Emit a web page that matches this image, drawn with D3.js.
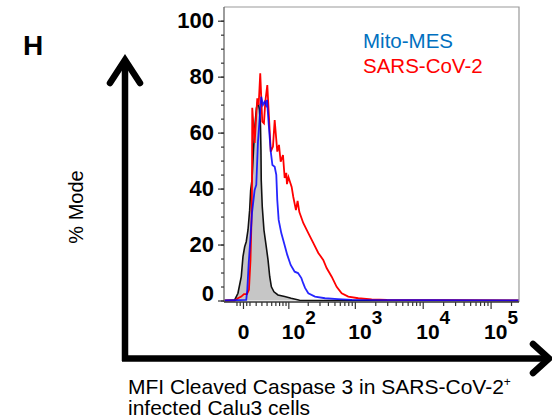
<!DOCTYPE html>
<html>
<head>
<meta charset="utf-8">
<script src="https://cdn.jsdelivr.net/npm/d3@7"></script>
<style>
  body { margin: 0; background: #fff; }
  text { font-family: "Liberation Sans", Arial, Helvetica, sans-serif; }
</style>
</head>
<body>
<div id="chart"></div>
<script>
// Histogram data: x = MFI (fluorescence), y = % of mode
const isotypeX = [-30, -12.8, -7.7, -2.6, 0, 2.6, 5.0, 7.7, 10.3, 11.9, 14.0, 16.4, 18.8, 21.3, 23.0, 24.8,
                  26.5, 28.3, 29.2, 29.7, 31.6, 34.8, 39.4, 43.0, 46.7, 50.4, 56.5, 66.9, 87.1, 111, 150, 262144];
const isotypeY = [0, 0.2, 2.6, 8.5, 15.7, 19.2, 21.0, 25.2, 32.3, 39.5, 43.1, 53.8, 62.7, 68.8, 70.6, 70.2,
                  68.1, 62.7, 53.8, 43.1, 33.5, 25.2, 19.2, 14.5, 8.5, 4.9, 3.1, 2.0, 1.4, 0.8, 0.1, 0];

const mitoX = [-30, 5.0, 6.6, 8.8, 11.3, 14.0, 18.3, 21.0, 23.9, 26.9, 29.7, 32.9, 36.2, 38.8, 40.9, 44.5,
               49.0, 52.8, 58.3, 62.4, 65.0, 68.8, 76.4, 84.8, 96.1, 109, 126, 142, 160, 171, 182, 204,
               257, 362, 564, 907, 262144];
const mitoY = [0, 0.2, 3.8, 13.4, 21.6, 31.3, 39.5, 41.3, 56.8, 65.1, 72.8, 69.9, 71.0, 69.9, 71.7, 62.9,
               53.2, 48.4, 47.8, 44.9, 35.9, 28.8, 24.1, 20.6, 16.3, 12.7, 10.3, 9.8, 8.0, 6.1, 4.5, 2.6,
               1.4, 0.8, 0.5, 0.2, 0];

const sarsX = [-30, -12.8, -7.7, -2.6, 1.5, 6.1, 9.2, 11.6, 13.2, 14.0, 14.4, 18.3, 22.7, 25.1, 27.9, 31.6,
               34.8, 37.4, 41.5, 45.2, 49.0, 54.1, 58.3, 65.0, 69.7, 74.6, 81.6, 87.1, 92.6, 95, 100.5, 113,
               120, 132, 140, 149, 171, 204, 242, 288, 341, 383, 455, 539, 639, 800, 1123, 1771, 2975, 262144];
const sarsY = [0, 0, 0.8, 1.4, 2.3, 2.3, 3.8, 14.5, 28.8, 41.3, 68.9, 56.3, 72.3, 69.9, 81.2, 63.9,
               63.3, 71.0, 77.0, 65.1, 53.2, 55.0, 64.5, 53.2, 55.6, 49.6, 52.0, 43.8, 45.6, 41.6, 44.1, 40.6,
               37.0, 32.3, 35.6, 31.6, 27.7, 24.1, 20.6, 17.0, 14.5, 11.6, 8.5, 4.9, 2.6, 1.4, 0.8, 0.4, 0.2, 0];

// Axis ticks
const xMajor = [0, 1e2, 1e3, 1e4, 1e5];
const xExp = ["", "2", "3", "4", "5"];
const xMinor = [-10, -5, 5, 10, 20, 30, 40, 50, 60, 70, 80, 90,
                200, 300, 400, 500, 600, 700, 800, 900,
                2000, 3000, 4000, 5000, 6000, 7000, 8000, 9000,
                20000, 30000, 40000, 50000, 60000, 70000, 80000, 90000, 200000];
const yMajor = [0, 20, 40, 60, 80, 100];
const yMinor = d3.range(0, 101, 5);

const legendNames = ["Mito-MES", "SARS-CoV-2"];
const legendColors = ["#0070C0", "#FF0000"];

const W = 552, H = 420;
const plot = { left: 224, right: 519, top: 7, bottom: 302 };

const svg = d3.select("#chart").append("svg")
    .attr("width", W)
    .attr("height", H);

// Biexponential-like (arcsinh) x transform
const cof = 45;
const tx = v => Math.asinh(v / cof);
const xScale = d3.scaleLinear().domain([tx(-31), tx(262144)]).range([plot.left, plot.right]);
const yScale = d3.scaleLinear().domain([0, 100]).range([300.5, 20.7]);

svg.append("clipPath").attr("id", "clip")
  .append("rect")
    .attr("x", plot.left).attr("y", plot.top)
    .attr("width", plot.right - plot.left).attr("height", plot.bottom - plot.top);

const zip = (xs, ys) => xs.map((v, i) => [v, ys[i]]);

const area = d3.area()
    .x(d => xScale(tx(d[0])))
    .y0(yScale(0))
    .y1(d => yScale(d[1]));
const line = d3.line()
    .x(d => xScale(tx(d[0])))
    .y(d => yScale(d[1]));

const curves = svg.append("g").attr("clip-path", "url(#clip)");

curves.append("path")
    .attr("d", area(zip(isotypeX, isotypeY)))
    .attr("fill", "#c6c6c6");
curves.append("path")
    .attr("d", line(zip(isotypeX, isotypeY)))
    .attr("fill", "none").attr("stroke", "#111").attr("stroke-width", 1.6);
curves.append("path")
    .attr("d", line(zip(sarsX, sarsY)))
    .attr("fill", "none").attr("stroke", "#FF0000").attr("stroke-width", 1.8);
curves.append("path")
    .attr("d", line(zip(mitoX, mitoY)))
    .attr("fill", "none").attr("stroke", "#0000FF").attr("stroke-width", 1.8)
    .attr("stroke-opacity", 0.85);

// Frame
svg.append("path")
    .attr("d", `M${plot.left},${plot.top}H${plot.right}V${plot.bottom}`)
    .attr("fill", "none").attr("stroke", "#999").attr("stroke-width", 1.2);
svg.append("line")
    .attr("x1", plot.left).attr("x2", plot.left)
    .attr("y1", plot.top).attr("y2", plot.bottom)
    .attr("stroke", "#666").attr("stroke-width", 1.3);
svg.append("line")
    .attr("x1", plot.left).attr("x2", plot.right)
    .attr("y1", plot.bottom).attr("y2", plot.bottom)
    .attr("stroke", "#333").attr("stroke-width", 1.3);

// Y axis
const yAxisMinor = svg.append("g")
    .attr("transform", `translate(${plot.left},0)`)
    .call(d3.axisLeft(yScale).tickValues(yMinor).tickSize(3).tickFormat(""));
yAxisMinor.select(".domain").remove();

const yAxis = svg.append("g")
    .attr("transform", `translate(${plot.left},0)`)
    .call(d3.axisLeft(yScale).tickValues(yMajor).tickSize(6).tickPadding(4));
yAxis.select(".domain").remove();
yAxis.selectAll("text")
    .style("font-size", "22px").style("font-weight", "bold")
    .style("font-family", "'Liberation Sans', Arial, sans-serif")
    .attr("fill", "#000");
yAxis.selectAll(".tick").filter(d => d === 0).select("text").attr("y", -7);

// X axis
const xAxisMinor = svg.append("g")
    .attr("transform", `translate(0,${plot.bottom})`)
    .call(d3.axisBottom(xScale).tickValues(xMinor.map(tx)).tickSize(4).tickFormat(""));
xAxisMinor.select(".domain").remove();

const xAxis = svg.append("g")
    .attr("transform", `translate(0,${plot.bottom})`)
    .call(d3.axisBottom(xScale).tickValues(xMajor.map(tx)).tickSize(7).tickFormat(""));
xAxis.select(".domain").remove();
xAxis.selectAll(".tick text").each(function(d, i) {
  const t = d3.select(this)
      .attr("y", 37).attr("dy", null)
      .attr("fill", "#000")
      .style("font-size", "21px").style("font-weight", "bold")
      .style("font-family", "'Liberation Sans', Arial, sans-serif");
  if (xExp[i] === "") {
    t.attr("text-anchor", "middle").text("0");
  } else {
    t.attr("text-anchor", "start").attr("x", -7);
    t.append("tspan").text("10");
    t.append("tspan").attr("dy", -15).style("font-size", "19px").text(xExp[i]);
  }
});
svg.selectAll(".tick line").attr("stroke", "#333").attr("stroke-width", 1.2);

// Legend
svg.selectAll(".legend")
  .data(legendNames)
  .enter().append("text")
    .attr("class", "legend")
    .attr("x", 363)
    .attr("y", (d, i) => 48 + i * 25)
    .attr("fill", (d, i) => legendColors[i])
    .style("font-size", "20.5px")
    .text(d => d);

// Panel letter
svg.append("text")
    .attr("x", 23).attr("y", 55)
    .style("font-size", "28px").style("font-weight", "bold")
    .text("H");

// Big schematic axes with arrows
const arrows = svg.append("g")
    .attr("fill", "none").attr("stroke", "#000").attr("stroke-width", 6.5)
    .attr("stroke-linejoin", "miter").attr("stroke-linecap", "butt");
arrows.append("path").attr("d", "M125,361V60");
arrows.append("path").attr("d", "M110,83L125,60L140,83").attr("stroke-linecap", "round");
arrows.append("path").attr("d", "M122,358.5H547");
arrows.append("path").attr("d", "M533,344L549,358.5L533,373").attr("stroke-linecap", "round");

// Axis titles
svg.append("text")
    .attr("transform", "translate(83,207) rotate(-90)")
    .attr("text-anchor", "middle")
    .style("font-size", "20px")
    .text("% Mode");

const xTitle = svg.append("text")
    .attr("x", 128).attr("y", 394)
    .style("font-size", "21px");
xTitle.append("tspan").text("MFI Cleaved Caspase 3 in SARS-CoV-2");
xTitle.append("tspan").attr("dy", -8).style("font-size", "12px").text("+");
svg.append("text")
    .attr("x", 128).attr("y", 415)
    .style("font-size", "21px")
    .text("infected Calu3 cells");
</script>
</body>
</html>
